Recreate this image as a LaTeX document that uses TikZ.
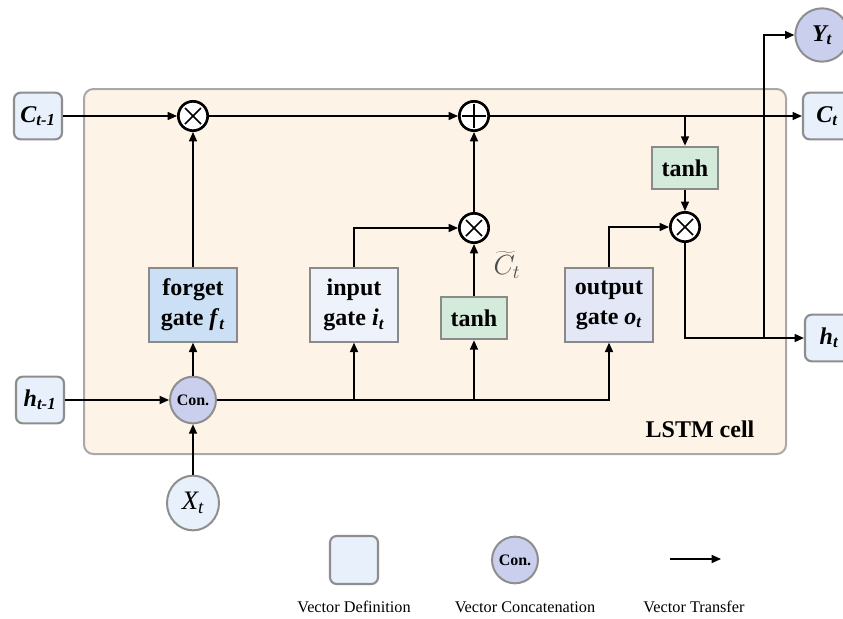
\documentclass[tikz,border=0pt]{standalone}
\usepackage{fontspec}
\setmainfont{Liberation Serif}
\usetikzlibrary{arrows.meta,shapes.geometric}
\definecolor{cellfill}{HTML}{FDF3E7}
\definecolor{cellline}{HTML}{A8A8A8}
\definecolor{vecfill}{HTML}{E7F0FB}
\definecolor{vecline}{HTML}{8E8E8E}
\definecolor{fgfill}{HTML}{CCE0F5}
\definecolor{igfill}{HTML}{EEF3FB}
\definecolor{ogfill}{HTML}{E3E7F6}
\definecolor{tanhfill}{HTML}{D4EBDC}
\definecolor{confill}{HTML}{CACFEE}
\definecolor{gateline}{HTML}{8A8A8A}
\begin{document}
\begin{tikzpicture}[x=0.75pt,y=-0.75pt,
  arr/.style={line width=1.1pt,-{Triangle[length=7pt,width=6pt]}},
  vbox/.style={draw=vecline,line width=1.6pt,fill=vecfill,rounded corners=5pt,
    minimum width=36pt,minimum height=35pt,inner sep=0pt,font=\fontsize{18}{20}\selectfont\bfseries\itshape},
  gate/.style={draw=gateline,line width=1.5pt,minimum width=66pt,minimum height=55pt,
    inner sep=0pt,align=center,font=\fontsize{18}{22.5}\selectfont\bfseries},
  tanhbox/.style={gate,fill=tanhfill,minimum width=50pt,minimum height=32pt},
  op/.style={circle,draw=black,line width=2pt,fill=white,minimum size=22pt,inner sep=0pt},
  conn/.style={ellipse,draw=vecline,line width=1.5pt,fill=confill,minimum width=33pt,
    minimum height=35pt,inner sep=0pt,font=\fontsize{12}{12}\selectfont\bfseries},
  legendtext/.style={font=\fontsize{12.2}{13}\selectfont}
]
\useasboundingbox (0,0) rectangle (843,618);
\clip (0,0) rectangle (843,618);
% cell background
\draw[draw=cellline,line width=1.5pt,fill=cellfill,rounded corners=7pt] (84,89) rectangle (786,454);
\node[font=\fontsize{18}{20}\selectfont\bfseries] (celllabel) at (700,429) {LSTM cell};
% vectors
\node[vbox] (cprev) at (38,116) {C\textsubscript{t-1}};
\node[vbox] (ct) at (827,116) {C\textsubscript{t}};
\node[vbox] (ht) at (829,338) {h\textsubscript{t}};
\node[vbox] (hprev) at (40,400) {h\textsubscript{t-1}};
\node[circle,draw=vecline,line width=1.5pt,fill=confill,minimum size=40pt,inner sep=0pt,
  font=\fontsize{18}{20}\selectfont\bfseries\itshape] (yt) at (822,35) {Y\textsubscript{t}};
\node[ellipse,draw=vecline,line width=1.5pt,fill=vecfill,minimum width=39pt,minimum height=41pt,
  inner sep=0pt,font=\fontsize{20}{22}\selectfont\itshape] (xt) at (193,503) {X\textsubscript{t}};
\node[conn] (con) at (193,400) {Con.};
% gates
\node[gate,fill=fgfill] (fg) at (193,305) {forget\\gate \textit{f}\textsubscript{\textit{t}}};
\node[gate,fill=igfill] (ig) at (354,305) {input\\gate \textit{i}\textsubscript{\textit{t}}};
\node[tanhbox] (tl) at (474,318) {tanh};
\node[gate,fill=ogfill] (og) at (609,305) {output\\gate \textit{o}\textsubscript{\textit{t}}};
\node[tanhbox] (tu) at (685,168) {tanh};
% operators
\node[op] (m1) at (193,116) {};
\node[op] (pl) at (474,116) {};
\node[op] (m2) at (474,228) {};
\node[op] (m3) at (685,227) {};
\foreach \n in {m1,m2,m3}{
  \draw[line width=1.3pt] ([shift={(-8,-8)}]\n.center) -- ([shift={(8,8)}]\n.center);
  \draw[line width=1.3pt] ([shift={(-8,8)}]\n.center) -- ([shift={(8,-8)}]\n.center);
}
\draw[line width=1.5pt] ([shift={(-12,0)}]pl.center) -- ([shift={(12,0)}]pl.center);
\draw[line width=1.5pt] ([shift={(0,-12)}]pl.center) -- ([shift={(0,12)}]pl.center);
\node[text=black!70,font=\fontsize{21}{22}\selectfont,inner sep=0pt] (ctilde) at (507,265) {$\widetilde{C}_t$};
% connectors
\draw[arr] (cprev.east) -- (m1.west);
\draw[arr] (m1.east) -- (pl.west);
\draw[arr] (pl.east) -- (ct.west);
\draw[arr] (tu.north |- pl.east) -- (tu.north);
\draw[arr] (tu.south) -- (m3.north);
\draw[arr] (og.north) |- (m3.west);
\draw[arr] (m3.south) |- (ht.west);
\coordinate (jy) at (764,338);
\draw[arr] (jy) |- (yt.west);
\draw[arr] (ig.north) |- (m2.west);
\draw[arr] (tl.north) -- (m2.south);
\draw[arr] (m2.north) -- (pl.south);
\draw[arr] (fg.north) -- (m1.south);
\draw[arr] (hprev.east) -- (con.west);
\draw[arr] (xt.north) -- (con.south);
\draw[arr] (con.north) -- (fg.south);
\draw[arr] (con.east) -| (og.south);
\draw[arr] (ig.south |- con.east) -- (ig.south);
\draw[arr] (tl.south |- con.east) -- (tl.south);
% legend
\node[vbox,minimum height=36pt] (lg1) at (354,560) {};
\node[conn] (lg2) at (515,560) {Con.};
\coordinate (la1) at (670,559);
\coordinate (la2) at (721,559);
\draw[arr] (la1) -- (la2);
\node[legendtext] (lt1) at (354,607) {Vector Definition};
\node[legendtext] (lt2) at (525,607) {Vector Concatenation};
\node[legendtext] (lt3) at (694,607) {Vector Transfer};
\end{tikzpicture}
\end{document}
